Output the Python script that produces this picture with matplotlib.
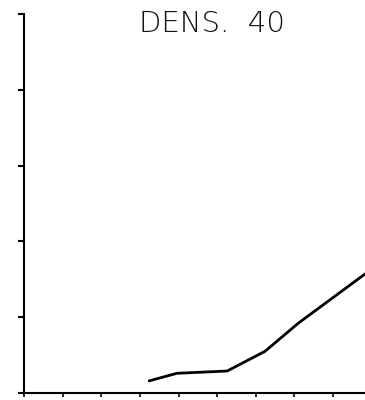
import matplotlib
matplotlib.use("Agg")
import matplotlib.pyplot as plt

# values
x_vals = [3.24, 3.96, 5.26, 6.24, 7.10, 8.83]
y_vals = [0.16, 0.26, 0.29, 0.55, 0.92, 1.57]
x_ticks = [0, 1, 2, 3, 4, 5, 6, 7, 8]
y_ticks = [0, 1, 2, 3, 4, 5]
title = "DENS.  40"

fig = plt.figure(figsize=(3.65, 4.0), dpi=100)
ax = fig.add_axes([0.066, 0.0175, 0.934, 0.9475])

ax.plot(x_vals, y_vals, color='black', linewidth=2.0, solid_capstyle='round')

ax.set_xlim(0, 8.83)
ax.set_ylim(0, 5)
ax.set_xticks(x_ticks)
ax.set_yticks(y_ticks)
ax.set_xticklabels([])
ax.set_yticklabels([])
ax.tick_params(axis='x', direction='out', length=3, width=1.2)
ax.tick_params(axis='y', direction='out', length=4.5, width=1.5)

for side in ['top', 'right']:
    ax.spines[side].set_visible(False)
for side in ['left', 'bottom']:
    ax.spines[side].set_linewidth(1.5)

fig.text(0.582, 0.941, title, ha='center', va='center', fontsize=21,
         family='DejaVu Sans', fontweight='light', color='#111111')

fig.savefig('out.png', dpi=100)
